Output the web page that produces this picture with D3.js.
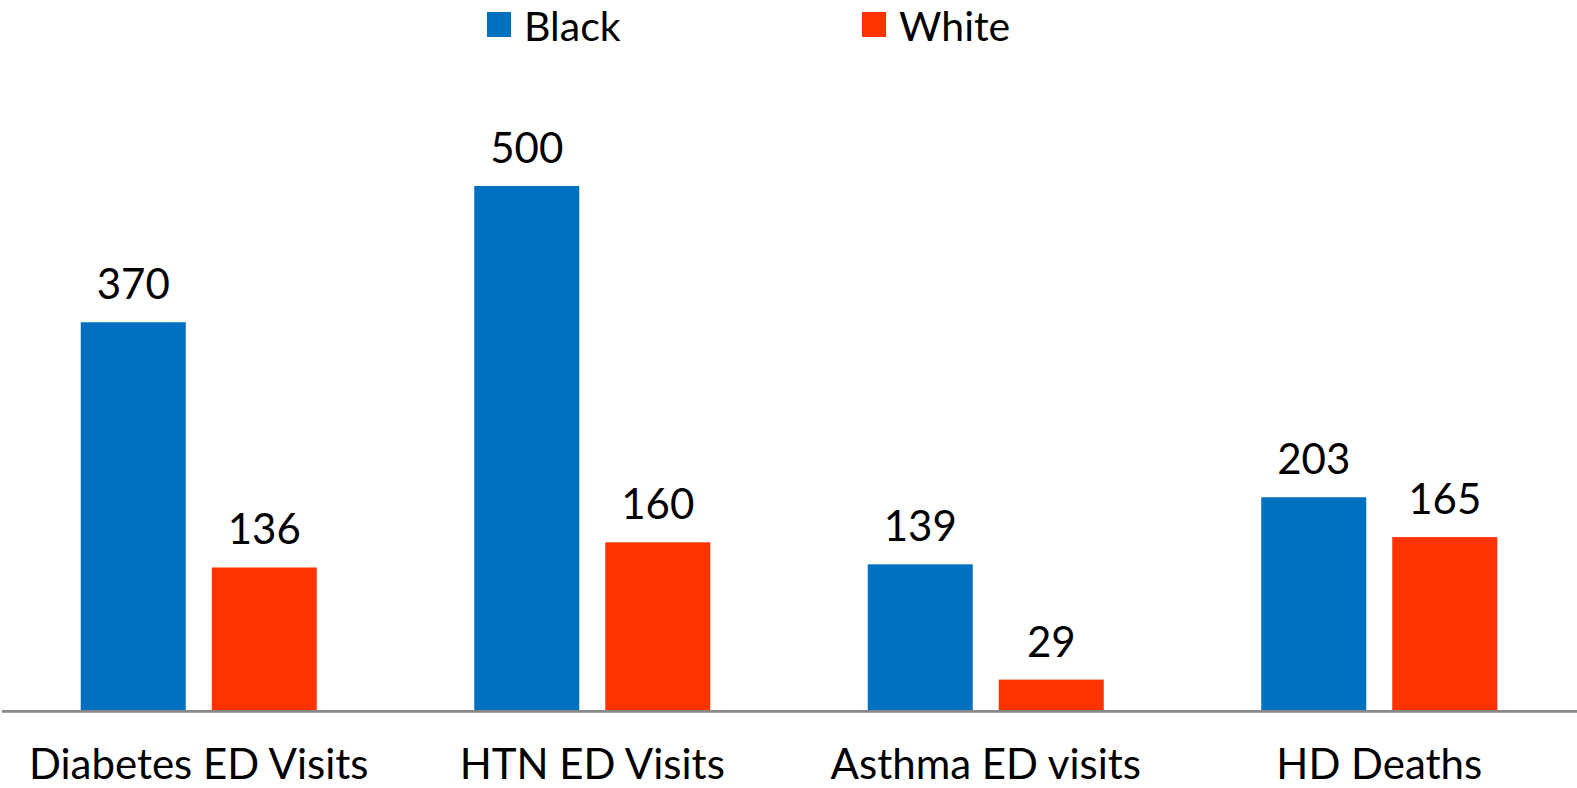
<!DOCTYPE html>
<html>
<head>
<meta charset="utf-8">
<script src="https://cdn.jsdelivr.net/npm/d3@7"></script>
<style>
  html, body { margin: 0; padding: 0; background: #fff; }
  svg { display: block; }
  text { font-family: "Lato", "DejaVu Sans", sans-serif; fill: #000; }
</style>
</head>
<body>
<svg id="chart" width="1577" height="788"></svg>
<script>
// Rates by measure and race
const categories = ["Diabetes ED Visits", "HTN ED Visits", "Asthma ED visits", "HD Deaths"];
const seriesNames = ["Black", "White"];
const blackValues = [370, 500, 139, 203];
const whiteValues = [136, 160, 29, 165];
const seriesColors = ["#0070C0", "#FF3300"];

const svg = d3.select("#chart");
const W = 1577, H = 788;
const baseY = 710;

const rows = categories.map((c, i) => ({
  category: c,
  values: [
    { key: seriesNames[0], value: blackValues[i] },
    { key: seriesNames[1], value: whiteValues[i] }
  ]
}));

const x0 = d3.scaleBand().domain(categories).range([2, 1576]).padding(0);
const x1 = d3.scaleBand().domain(seriesNames)
  .range([0, x0.bandwidth()])
  .paddingInner(0.1985)
  .paddingOuter(0.601);
const y = d3.scaleLinear().domain([0, 600]).range([baseY, baseY - 628.8]);
const color = d3.scaleOrdinal().domain(seriesNames).range(seriesColors);

const groups = svg.append("g").selectAll("g")
  .data(rows).join("g")
  .attr("transform", d => `translate(${x0(d.category)},0)`);

groups.selectAll("rect")
  .data(d => d.values).join("rect")
  .attr("x", d => x1(d.key))
  .attr("y", d => y(d.value))
  .attr("width", x1.bandwidth())
  .attr("height", d => y(0) - y(d.value))
  .attr("fill", d => color(d.key));

groups.selectAll("text.val")
  .data(d => d.values).join("text")
  .attr("class", "val")
  .attr("x", d => x1(d.key) + x1.bandwidth() / 2)
  .attr("y", d => y(d.value) - 23)
  .attr("text-anchor", "middle")
  .style("font-size", "42px")
  .text(d => d.value);

// Baseline axis
const xAxis = d3.axisBottom(x0).tickSize(0).tickPadding(0);
const axisG = svg.append("g")
  .attr("transform", `translate(0,${baseY + 1.3})`)
  .call(xAxis);
axisG.select(".domain").attr("stroke", "#898989").attr("stroke-width", 2.7)
  .attr("d", `M2,0H${W}`);
axisG.selectAll(".tick text")
  .attr("y", 0)
  .attr("dy", "0")
  .attr("transform", "translate(0,68)")
  .style("font-size", "42px")
  .style("font-family", "Lato, 'DejaVu Sans', sans-serif")
  .attr("fill", "#000");

// Legend
const legendX = [487, 862];
const legend = svg.append("g").selectAll("g")
  .data(seriesNames).join("g")
  .attr("transform", (d, i) => `translate(${legendX[i]},0)`);
legend.append("rect")
  .attr("x", 0).attr("y", 12)
  .attr("width", 24).attr("height", 25)
  .attr("fill", d => color(d));
legend.append("text")
  .attr("x", 37).attr("y", 40.5)
  .style("font-size", "41px")
  .text(d => d);
</script>
</body>
</html>
